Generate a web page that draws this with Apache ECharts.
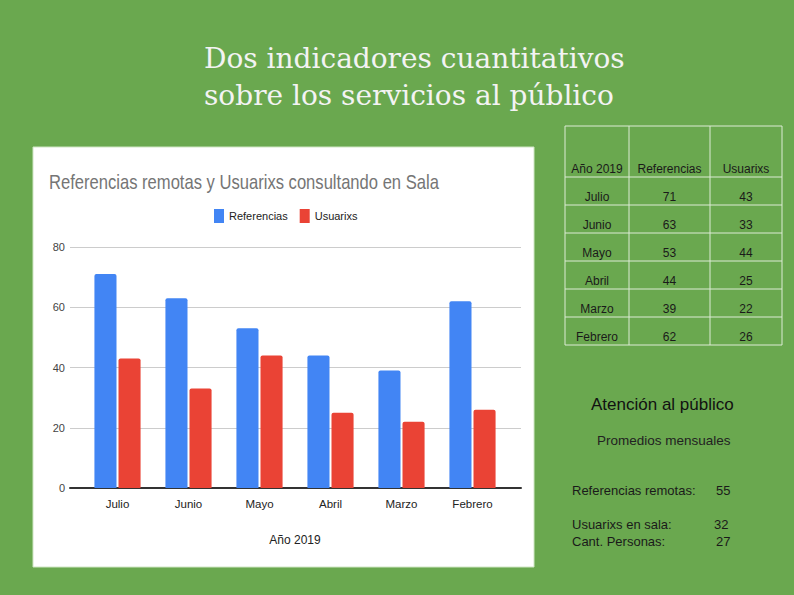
<!DOCTYPE html>
<html><head><meta charset="utf-8">
<script src="https://cdn.jsdelivr.net/npm/echarts@6/dist/echarts.min.js"></script>
<style>html,body{margin:0;padding:0;background:#6aa84f;}#c{width:794px;height:595px;}</style>
</head><body><div id="c"></div>
<script>
// ---- data ----
const slideTitle = ['Dos indicadores cuantitativos', 'sobre los servicios al público'];
const chartTitle = 'Referencias remotas y Usuarixs consultando en Sala';
const months = ['Julio', 'Junio', 'Mayo', 'Abril', 'Marzo', 'Febrero'];
const referencias = [71, 63, 53, 44, 39, 62];
const usuarixs = [43, 33, 44, 25, 22, 26];
const seriesNames = ['Referencias', 'Usuarixs'];
const xAxisTitle = 'Año 2019';
const yMin = 0, yMax = 80, yStep = 20;
const tableHeader = ['Año 2019', 'Referencias', 'Usuarixs'];
const boxTitle = 'Atención al público';
const boxSubtitle = 'Promedios mensuales';
const summaryLabels = ['Referencias remotas:', 'Usuarixs en sala:', 'Cant. Personas:'];
const summaryValues = [55, 32, 27];

// ---- layout ----
const FONT = '"Liberation Sans", Arial, sans-serif';
const colX = [565, 629, 710, 782];
const rowY = [126, 177, 205, 233, 261, 289, 317, 345];
const lineCol = '#dcebd5';
const graphics = [];
// chart card
graphics.push({type: 'rect', z: -10, shape: {x: 33, y: 147, width: 501, height: 420},
  style: {fill: '#ffffff', stroke: '#cfe6c4', lineWidth: 1}});
// slide title
slideTitle.forEach((t, i) => graphics.push({type: 'text', x: 204, y: 58 + i * 37,
  style: {text: t, font: '28px "DejaVu Serif", serif', fill: '#f3f3f3', verticalAlign: 'middle'}}));
// chart title (condensed)
graphics.push({type: 'text', x: 49, y: 182, scaleX: 0.83,
  style: {text: chartTitle, font: '20px ' + FONT, fill: '#757575', verticalAlign: 'middle'}});
// table lines
colX.forEach(x => graphics.push({type: 'line', shape: {x1: x, y1: rowY[0], x2: x, y2: rowY[rowY.length - 1]},
  style: {stroke: lineCol, lineWidth: 1}}));
rowY.forEach(y => graphics.push({type: 'line', shape: {x1: colX[0], y1: y, x2: colX[colX.length - 1], y2: y},
  style: {stroke: lineCol, lineWidth: 1}}));
const cellText = (t, c, yc) => graphics.push({type: 'text', x: (colX[c] + colX[c + 1]) / 2, y: yc,
  style: {text: String(t), font: '12px ' + FONT, fill: '#1a1a1a', align: 'center', verticalAlign: 'middle'}});
tableHeader.forEach((h, c) => cellText(h, c, rowY[1] - 8));
months.forEach((m, r) => {
  const yc = rowY[r + 1] + 20;
  cellText(m, 0, yc);
  cellText(referencias[r], 1, yc);
  cellText(usuarixs[r], 2, yc);
});
// summary box
graphics.push({type: 'text', x: 591, y: 404,
  style: {text: boxTitle, font: '17px ' + FONT, fill: '#111', verticalAlign: 'middle'}});
graphics.push({type: 'text', x: 597, y: 440,
  style: {text: boxSubtitle, font: '13.5px ' + FONT, fill: '#222', verticalAlign: 'middle'}});
const sumY = [490, 524, 541];
const sumX = [716, 714, 716];
summaryLabels.forEach((l, i) => {
  graphics.push({type: 'text', x: 572, y: sumY[i],
    style: {text: l, font: '13px ' + FONT, fill: '#1a1a1a', verticalAlign: 'middle'}});
  graphics.push({type: 'text', x: sumX[i], y: sumY[i],
    style: {text: String(summaryValues[i]), font: '13px ' + FONT, fill: '#1a1a1a', verticalAlign: 'middle'}});
});

const chart = echarts.init(document.getElementById('c'), null, {renderer: 'svg'});
chart.setOption({
  backgroundColor: '#6aa84f',
  animation: false,
  textStyle: {fontFamily: FONT},
  graphic: {elements: graphics},
  legend: {
    data: seriesNames, left: 214, top: 209, padding: 0, itemWidth: 10, itemHeight: 14, itemGap: 12,
    icon: 'rect', textStyle: {fontSize: 11, color: '#222'}
  },
  grid: [
    {left: 82, right: 286, top: 247, bottom: 107, containLabel: false},
    {left: 70, right: 273, top: 247, bottom: 107, containLabel: false}
  ],
  xAxis: [
    {type: 'category', gridIndex: 0, data: months,
      axisLine: {show: false}, axisTick: {show: false},
      axisLabel: {color: '#222', fontSize: 11.5, margin: 10},
      name: xAxisTitle, nameLocation: 'middle', nameGap: 46,
      nameTextStyle: {color: '#222', fontSize: 12}},
    {type: 'value', gridIndex: 1, min: 0, max: 1, show: true,
      axisLine: {show: true, lineStyle: {color: '#333', width: 2}},
      axisTick: {show: false}, axisLabel: {show: false}, splitLine: {show: false}}
  ],
  yAxis: [
    {type: 'value', gridIndex: 0, min: yMin, max: yMax, interval: yStep,
      axisLine: {show: false}, axisTick: {show: false}, splitLine: {show: false},
      axisLabel: {color: '#444', fontSize: 11, margin: 17}},
    {type: 'value', gridIndex: 1, min: yMin, max: yMax, interval: yStep,
      axisLine: {show: false}, axisTick: {show: false}, axisLabel: {show: false},
      splitLine: {show: true, lineStyle: {color: '#cccccc', width: 1}}}
  ],
  series: [
    {name: seriesNames[0], type: 'bar', xAxisIndex: 0, yAxisIndex: 0, data: referencias,
      itemStyle: {color: '#4285f4', borderRadius: [2, 2, 0, 0]},
      barCategoryGap: '35%', barGap: '9%', z: 3},
    {name: seriesNames[1], type: 'bar', xAxisIndex: 0, yAxisIndex: 0, data: usuarixs,
      itemStyle: {color: '#ea4335', borderRadius: [2, 2, 0, 0]},
      barCategoryGap: '35%', barGap: '9%', z: 3}
  ]
});
</script>
</body></html>
